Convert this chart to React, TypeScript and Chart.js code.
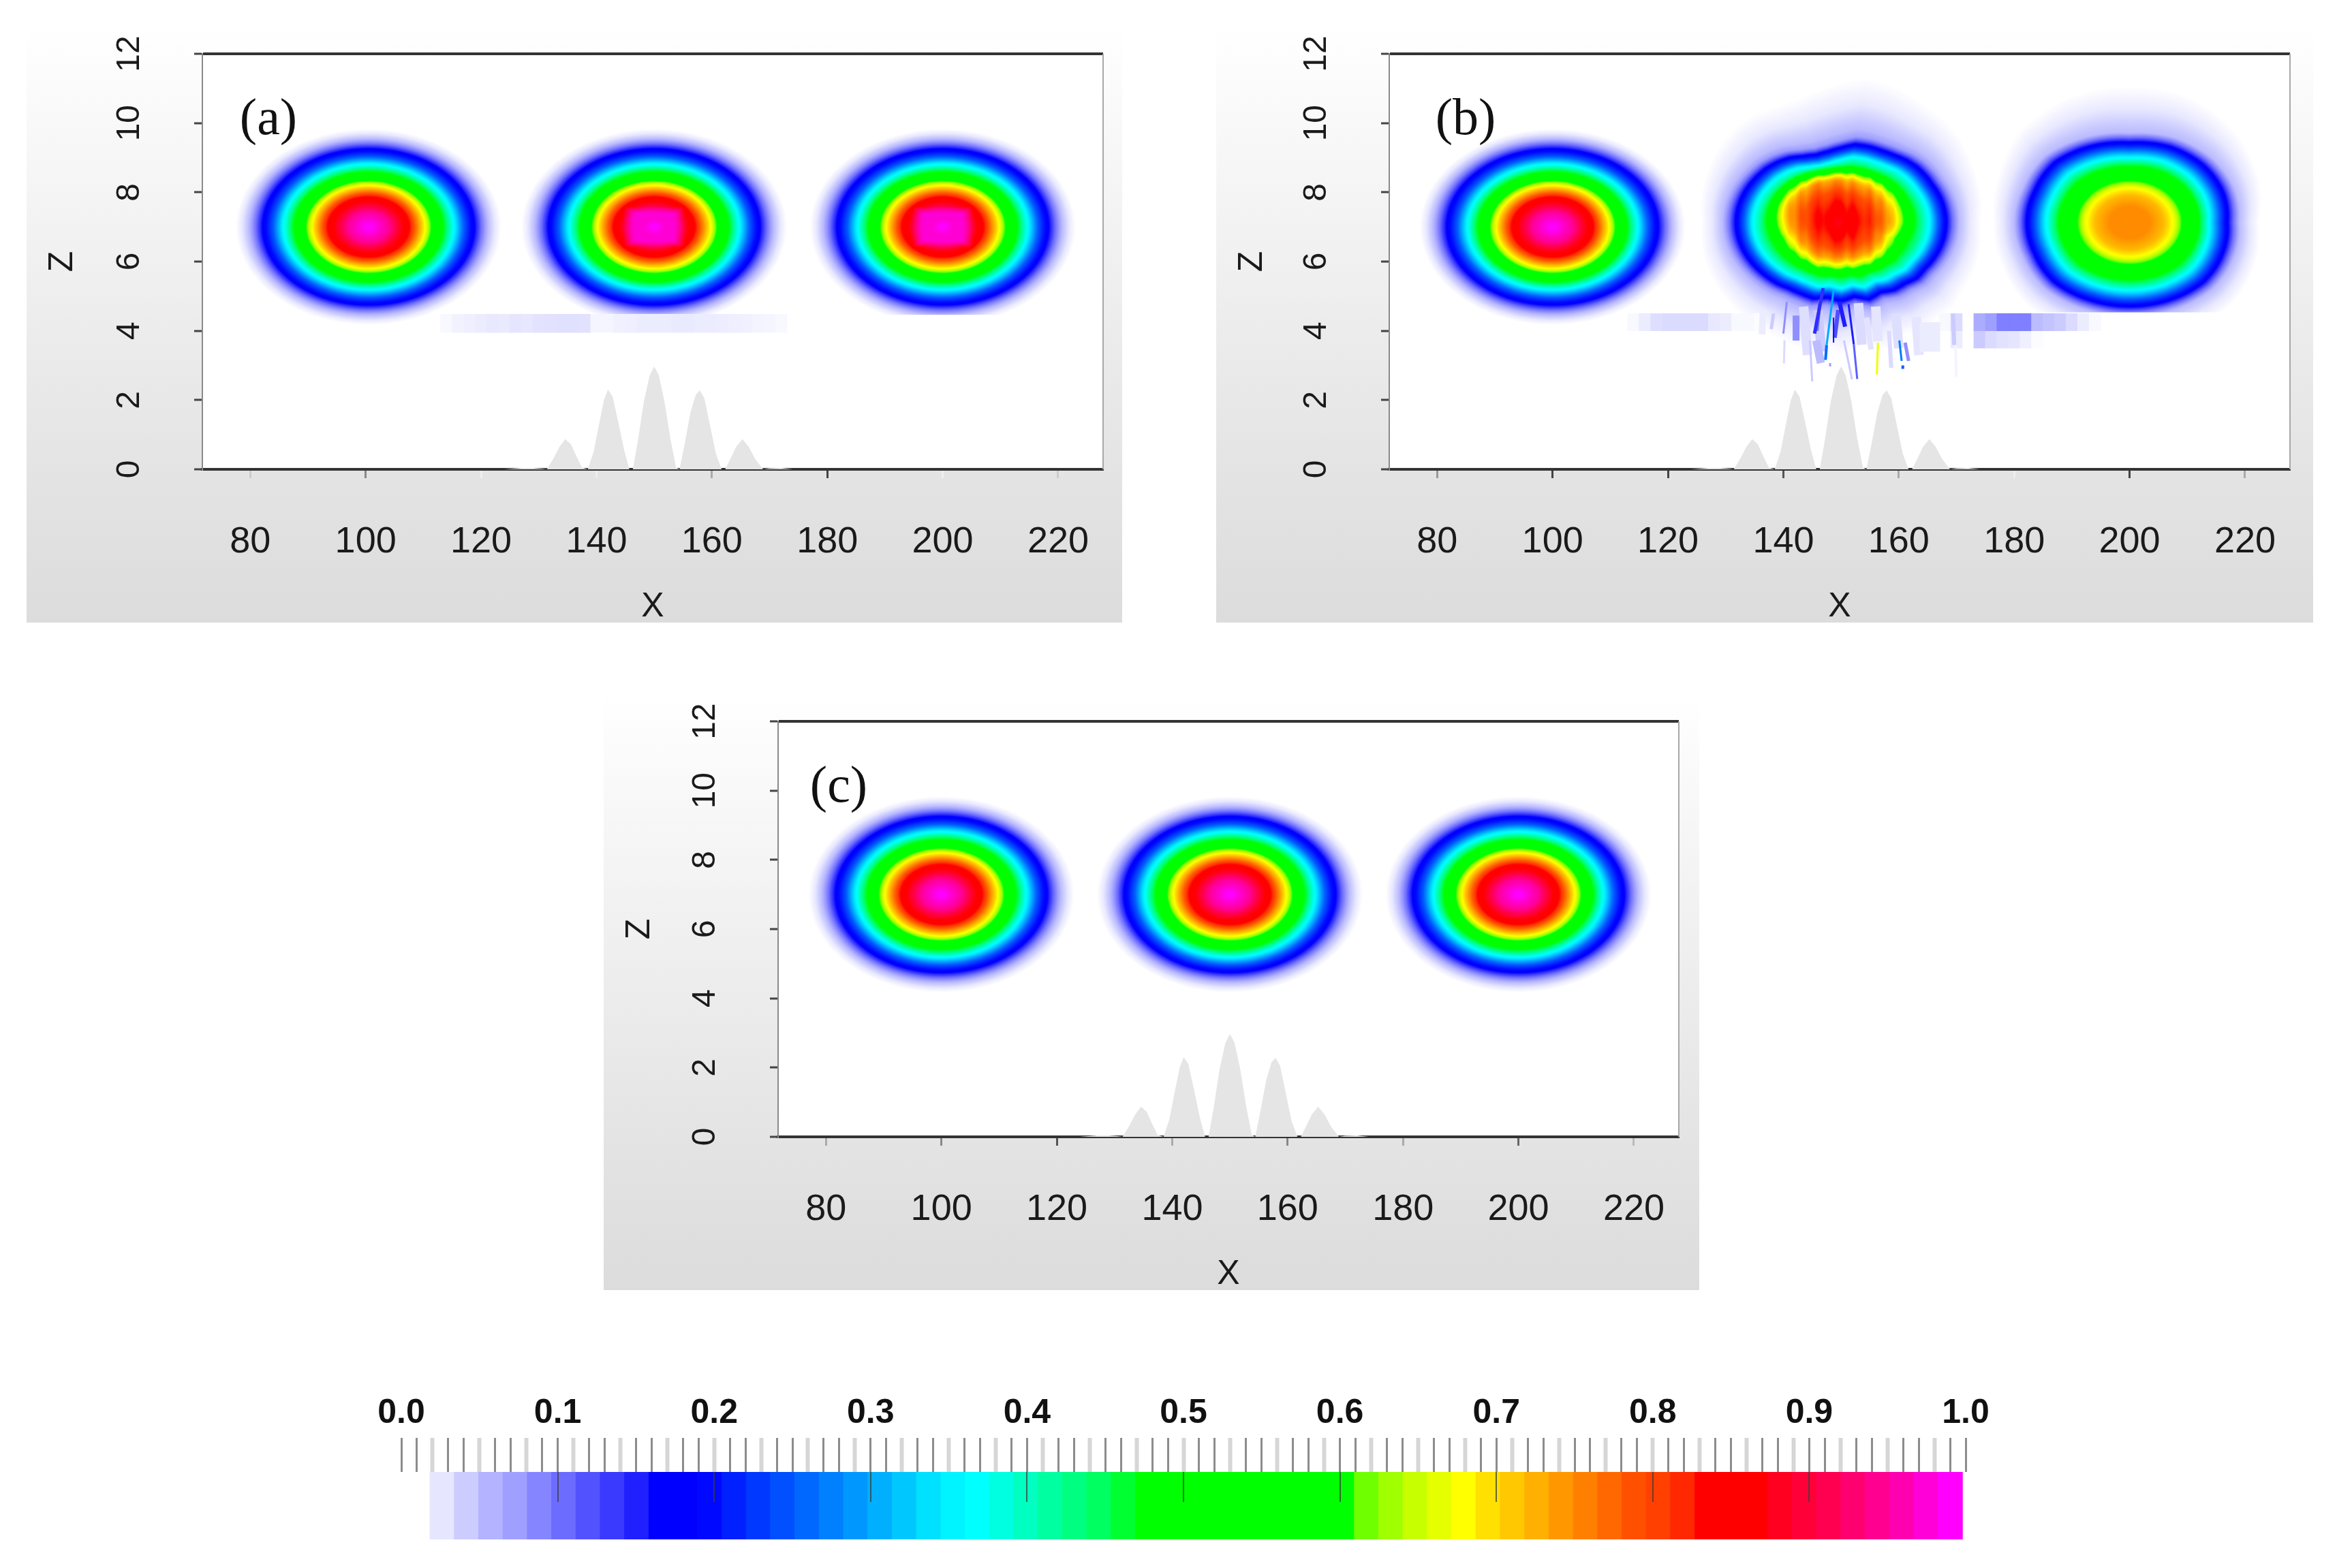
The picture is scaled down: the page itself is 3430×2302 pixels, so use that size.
import React, { useEffect, useRef } from "react";
import { Chart, registerables } from "chart.js";

Chart.register(...registerables);

// ---------- axis values ----------
const xTickStep = 20;
const zTickStep = 2;
const xMin = 71.7;
const xMax = 227.8;
const zMin = 0;
const zMax = 12;

// ---------- grey layer profile (bottom of every panel) ----------
const peakX = [124, 127, 129, 130.5, 131.4, 132.5, 133.6, 134.6, 135.6, 136.6, 137.5, 138.5, 139.5, 140.5, 141.3, 142, 142.8, 143.8, 144.8, 145.7, 146.3, 147.2, 148.2, 149.2, 150, 150.8, 151.8, 152.8, 153.8, 154.4, 155.3, 156.3, 157.2, 157.9, 158.7, 159.7, 160.7, 161.7, 162.3, 163.2, 164.2, 165.3, 166.4, 167.5, 168.9, 170, 172, 174];
const peakZ = [0, 0.04, 0.04, 0.02, 0, 0.3, 0.65, 0.87, 0.72, 0.35, 0.05, 0, 0.5, 1.35, 2.0, 2.3, 2.1, 1.35, 0.55, 0, 0, 0.85, 1.95, 2.7, 2.97, 2.72, 1.95, 0.9, 0.05, 0, 0.75, 1.65, 2.15, 2.28, 2.05, 1.25, 0.45, 0, 0, 0.3, 0.65, 0.87, 0.65, 0.3, 0, 0.03, 0.04, 0];

// ---------- colour scale: 64 levels ----------
const levelColors = [
  "#ffffff", "#e6e6ff", "#ccccff", "#b3b3ff", "#9f9fff", "#8585ff", "#6c6cff", "#5252ff",
  "#3a3aff", "#2020ff", "#0000ff", "#0000ff", "#0008ff", "#0020ff", "#0038ff", "#0050ff",
  "#0068ff", "#0080ff", "#0098ff", "#00b0ff", "#00c8ff", "#00e0ff", "#00f4ff", "#00ffff",
  "#00ffe0", "#00ffc0", "#00ffa0", "#00ff80", "#00ff60", "#00ff30", "#00ff00", "#00ff00",
  "#00ff00", "#00ff00", "#00ff00", "#00ff00", "#00ff00", "#00ff00", "#00ff00", "#70ff00",
  "#a0ff00", "#c8ff00", "#e6ff00", "#ffff00", "#ffe000", "#ffc800", "#ffb000", "#ff9800",
  "#ff8000", "#ff6800", "#ff5000", "#ff4000", "#ff2800", "#ff0000", "#ff0000", "#ff0000",
  "#ff0020", "#ff0038", "#ff0050", "#ff0070", "#ff0090", "#ff00b0", "#ff00d8", "#ff00ff",
];
const barStartLevel = 0.0183;
const barLevelStep = 0.01555;
const barColors = levelColors.slice(1);
const barLevels = barColors.map((_, i) => barStartLevel + (i + 0.5) * barLevelStep);

// ---------- radial profiles: radius (x units) -> level ----------
const profileRadius = [0, 3.5, 7.2, 8.7, 9.9, 10.9, 13, 14.8, 16.5, 18.1, 19.5, 20.7, 22, 23];
const profileLevel = [1, 0.95, 0.83, 0.74, 0.67, 0.6, 0.47, 0.36, 0.25, 0.18, 0.1, 0.05, 0.02, 0];
const profileRadiusB2 = [0, 2.95, 5.9, 8.3, 9.8, 10.9, 12.8, 15.3, 16.8, 18.1, 19.3, 20.5, 22.4, 24.2];
const profileLevelB2 = [0.87, 0.84, 0.8, 0.74, 0.67, 0.6, 0.47, 0.36, 0.25, 0.18, 0.1, 0.05, 0.02, 0];
const profileRadiusB3 = [0, 3.5, 5.9, 7.7, 9.1, 12.4, 14.5, 16.3, 17.7, 18.9, 20, 22, 23.6];
const profileLevelB3 = [0.75, 0.75, 0.72, 0.67, 0.6, 0.47, 0.36, 0.25, 0.18, 0.1, 0.05, 0.02, 0];

// contour deformation by angle (counter-clockwise from +x)
const outerShapeB2 = [1, 1, 1, 1, 1, 1.01, 1.02, 1.02, 1.01, 1.01, 1.02, 1.02, 0.97, 0.93, 0.91, 0.93, 0.97, 0.99, 1, 1, 1, 1, 1, 1, 1, 1, 1, 1, 1, 1, 1, 1, 0.99, 1, 1.02, 0.98, 1.02, 0.97, 1.03, 0.98, 1.01, 1, 1.02, 1, 1, 1, 1, 1];
const coreShapeB2 = [1.0, 1.02, 1.06, 1.12, 1.17, 1.2, 1.16, 1.12, 1.04, 0.98, 1.0, 1.04, 1.0, 1.02, 0.98, 0.92];
const outerShapeB3 = [0.95, 0.98, 1.0, 1.0, 0.97, 1.0, 1.03, 1.0, 1.0, 1.0, 1.03, 1.02, 1.02, 1.02, 1.02, 0.98];
const flatShape = [1];
const coreRippleB2 = [0, 0.01, -0.01, 0.01, -0.015, 0.005, 0.015, -0.01, -0.005, 0.015, 0.01, -0.015, 0.012, -0.005, -0.01, 0.015, -0.012, 0.01, -0.01, 0.01, 0];

// ---------- pale level cells ----------
const bandXA = [114, 116, 118, 120, 122, 124, 126, 128, 130, 132, 134, 136, 138, 140, 142, 144, 146, 148, 150, 152, 154, 156, 158, 160, 162, 164, 166, 168, 170, 172];
const bandLevelA = [0.012, 0.016, 0.018, 0.02, 0.022, 0.021, 0.024, 0.023, 0.025, 0.026, 0.027, 0.027, 0.026, 0.014, 0.014, 0.017, 0.018, 0.02, 0.02, 0.02, 0.021, 0.021, 0.02, 0.02, 0.019, 0.018, 0.017, 0.015, 0.014, 0.012];
const bandXB = [114, 116, 118, 120, 122, 124, 126, 128, 130, 132, 134, 136, 168, 170, 174, 176, 178, 180, 182, 184, 186, 188, 190, 192, 194];
const bandLevelB = [0.012, 0.02, 0.028, 0.03, 0.03, 0.03, 0.03, 0.022, 0.02, 0.012, 0.012, 0.01, 0.012, 0.03, 0.06, 0.07, 0.09, 0.09, 0.09, 0.05, 0.045, 0.04, 0.03, 0.02, 0.012];
const lowBandXB = [170, 174, 176, 178, 180, 182, 184];
const lowBandLevelB = [0.02, 0.04, 0.03, 0.026, 0.024, 0.018, 0.01];

// ---------- filaments below the centre source in panel (b): x1, z1, x2, z2, level, width ----------
const streakX1 = [146.9, 148.7, 147.5, 148.7, 149.7, 151.3, 152.2, 156.4, 160.1, 161.1, 140.6, 142.2, 138.3, 144.6, 140.2, 148.1, 150.5, 145.7, 154.4, 158.3, 169.4, 165.4, 169.8, 149.5, 146.4, 160.7, 143.5, 146, 153, 156, 159.5, 163, 136.5];
const streakZ1 = [5.23, 5.17, 3.59, 4.38, 4.84, 4.77, 3.62, 3.66, 3.72, 3.66, 4.84, 4.44, 4.5, 3.72, 3.72, 3.07, 3.72, 3.72, 4.38, 4.0, 4.5, 4.25, 3.59, 4.6, 4.9, 3.0, 4.7, 4.6, 4.8, 4.7, 4.5, 4.4, 4.6];
const streakX2 = [145.4, 147.5, 147.3, 148.7, 150.7, 152.2, 152.8, 156.2, 160.5, 161.7, 140.0, 142.2, 137.9, 145, 140.1, 148.1, 151.9, 146.5, 155.2, 158.7, 169.6, 165.4, 170, 148.9, 145.8, 160.7, 144.2, 146.6, 153.6, 156.4, 160, 163.5, 136.3];
const streakZ2 = [3.92, 3.59, 3.16, 3.66, 4.12, 3.62, 2.61, 2.74, 3.13, 3.13, 3.92, 3.72, 4.05, 2.54, 3.06, 2.97, 2.6, 3.07, 3.46, 2.93, 3.59, 3.4, 2.66, 3.8, 4.0, 2.9, 3.3, 3.4, 3.6, 3.7, 3.5, 3.3, 3.9];
const streakLevel = [0.14, 0.3, 0.26, 0.16, 0.15, 0.15, 0.11, 0.67, 0.27, 0.08, 0.08, 0.08, 0.04, 0.04, 0.03, 0.07, 0.04, 0.05, 0.025, 0.03, 0.04, 0.02, 0.015, 0.12, 0.1, 0.25, 0.028, 0.04, 0.03, 0.024, 0.028, 0.024, 0.02];
const streakWidth = [5, 3, 4, 2, 6, 3, 3, 3, 3, 5, 3, 10, 5, 3, 3, 3, 3, 12, 8, 6, 6, 30, 4, 6, 5, 4, 14, 14, 14, 14, 14, 14, 10];

// ---------- tick shades ----------
const xTickShadeA = ["#cccccc", "#888888", "#eeeeee", "#eeeeee", "#aaaaaa", "#444444", "#eeeeee", "#cccccc"];
const xTickShadeB = ["#999999", "#444444", "#444444", "#555555", "#aaaaaa", "#eeeeee", "#444444", "#aaaaaa"];
const xTickShadeC = ["#aaaaaa", "#888888", "#555555", "#aaaaaa", "#888888", "#aaaaaa", "#666666", "#bbbbbb"];

const FONT = "'Liberation Sans', Arial, sans-serif";
const plotW = 1322;
const plotH = 610;
const pxPerX = plotW / (xMax - xMin);
const pxPerZ = plotH / (zMax - zMin);

function hexToRgb(h: string) {
  return [parseInt(h.slice(1, 3), 16), parseInt(h.slice(3, 5), 16), parseInt(h.slice(5, 7), 16)];
}
const rgbLevels = levelColors.map(hexToRgb);
function levelRgb(v: number) {
  const p = Math.min(63, Math.max(0, v * 64 - 0.5));
  const i = Math.floor(p);
  const t = p - i;
  const a = rgbLevels[i];
  const b = rgbLevels[Math.min(63, i + 1)];
  return [a[0] + (b[0] - a[0]) * t, a[1] + (b[1] - a[1]) * t, a[2] + (b[2] - a[2]) * t];
}
function levelCss(v: number) {
  const c = levelRgb(v);
  return `rgb(${Math.round(c[0])},${Math.round(c[1])},${Math.round(c[2])})`;
}

function lookup(radii: number[], levels: number[], r: number) {
  if (r <= radii[0]) return levels[0];
  for (let i = 1; i < radii.length; i++) {
    if (r < radii[i]) {
      const t = (r - radii[i - 1]) / (radii[i] - radii[i - 1]);
      return levels[i - 1] + (levels[i] - levels[i - 1]) * t;
    }
  }
  return levels[levels.length - 1];
}
function circular(table: number[], theta: number) {
  const n = table.length;
  if (n === 1) return table[0];
  const p = ((theta / (Math.PI * 2)) % 1 + 1) % 1 * n;
  const i = Math.floor(p);
  const t = p - i;
  return table[i % n] * (1 - t) + table[(i + 1) % n] * t;
}

type Blob = {
  x: number; z: number; aspect: number; radii: number[]; levels: number[];
  clipZ?: number; tailUp?: number; tailDown?: number;
  outer?: number[]; core?: number[]; ripple?: number[]; squareX?: number; squareZ?: number;
};

function renderBlob(b: Blob) {
  const half = 270;
  const cv = document.createElement("canvas");
  cv.width = half * 2;
  cv.height = half * 2;
  const g = cv.getContext("2d")!;
  const img = g.createImageData(half * 2, half * 2);
  const outer = b.outer || flatShape;
  const core = b.core || flatShape;
  for (let py = 0; py < half * 2; py++) {
    const dz = (half - py - 0.5) / pxPerZ;
    if (b.clipZ !== undefined && b.z + dz < b.clipZ) continue;
    for (let px = 0; px < half * 2; px++) {
      const dx = (px + 0.5 - half) / pxPerX;
      const zz = dz * b.aspect;
      const rho0 = Math.hypot(dx, zz);
      const th = Math.atan2(zz, dx);
      const mix = Math.min(1, Math.max(0, (rho0 - 10) / 4));
      const f = circular(core, th) * (1 - mix) + circular(outer, th) * mix;
      let rho = rho0 / f;
      if (rho > 20) {
        const s = Math.sin(th);
        const tail = s > 0 ? (b.tailUp || 0) * s : (b.tailDown || 0) * -s;
        rho = 20 + (rho - 20) * (1 - tail);
      }
      let v = lookup(b.radii, b.levels, rho);
      if (b.ripple && v > 0.55) {
        const q = Math.min(b.ripple.length - 1.001, Math.max(0, dx + 10));
        const qi = Math.floor(q);
        v += b.ripple[qi] + (b.ripple[qi + 1] - b.ripple[qi]) * (q - qi);
      }
      if (b.squareX && b.squareZ) {
        const e = Math.max(Math.abs(dx) / b.squareX, Math.abs(dz) / b.squareZ);
        const soft = Math.min(1, Math.max(0, (1.35 - e) / 0.5));
        v = Math.max(v, v + (0.975 - v) * soft);
      }
      if (v <= 0.001) continue;
      const c = levelRgb(Math.max(v, 0.0234));
      const i = (py * half * 2 + px) * 4;
      img.data[i] = c[0];
      img.data[i + 1] = c[1];
      img.data[i + 2] = c[2];
      img.data[i + 3] = Math.min(1, v / 0.0234) * 255;
    }
  }
  g.putImageData(img, 0, 0);
  return cv;
}

// ---------- panels ----------
const sourceA: Blob[] = [
  { x: 100.5, z: 7, aspect: 8.13, radii: profileRadius, levels: profileLevel, clipZ: 4.0 },
  { x: 150, z: 7, aspect: 8.13, radii: profileRadius, levels: profileLevel, clipZ: 4.47, squareX: 4, squareZ: 0.45 },
  { x: 200, z: 7, aspect: 8.13, radii: profileRadius, levels: profileLevel, clipZ: 4.47, squareX: 4, squareZ: 0.45 },
];
const sourceB: Blob[] = [
  { x: 100, z: 7, aspect: 8.13, radii: profileRadius, levels: profileLevel, clipZ: 4.0 },
  { x: 150, z: 7.13, aspect: 8.16, radii: profileRadiusB2, levels: profileLevelB2, tailUp: 0.7, tailDown: 0.6, outer: outerShapeB2, core: coreShapeB2, ripple: coreRippleB2 },
  { x: 200, z: 7.13, aspect: 7.5, radii: profileRadiusB3, levels: profileLevelB3, clipZ: 4.54, tailUp: 0.65, tailDown: 0.3, outer: outerShapeB3 },
];
const sourceC: Blob[] = [
  { x: 100, z: 7, aspect: 8.13, radii: profileRadius, levels: profileLevel },
  { x: 150, z: 7, aspect: 8.13, radii: profileRadius, levels: profileLevel },
  { x: 200, z: 7, aspect: 8.13, radii: profileRadius, levels: profileLevel },
];

type PanelCfg = {
  tag: string; left: number; top: number; width: number; height: number; plotLeft: number;
  tagX: number; tagY: number; sources: Blob[]; xShade: string[];
  bands: { xs: number[]; levels: number[]; lo: number; hi: number }[];
  streaks: boolean;
};
const panels: PanelCfg[] = [
  { tag: "(a)", left: 39, top: 40, width: 1608, height: 874, plotLeft: 258, tagX: 394, tagY: 177, sources: sourceA, xShade: xTickShadeA, bands: [{ xs: bandXA, levels: bandLevelA, lo: 3.95, hi: 4.48 }], streaks: false },
  { tag: "(b)", left: 1785, top: 40, width: 1610, height: 874, plotLeft: 254, tagX: 2151, tagY: 177, sources: sourceB, xShade: xTickShadeB, bands: [{ xs: bandXB, levels: bandLevelB, lo: 4.0, hi: 4.5 }, { xs: lowBandXB, levels: lowBandLevelB, lo: 3.5, hi: 4.0 }], streaks: true },
  { tag: "(c)", left: 886, top: 1020, width: 1608, height: 874, plotLeft: 256, tagX: 1231, tagY: 1157, sources: sourceC, xShade: xTickShadeC, bands: [], streaks: false },
];

function noScalePadding(s: any) {
  s.paddingLeft = 0;
  s.paddingRight = 0;
  s.paddingTop = 0;
  s.paddingBottom = 0;
}

const panelPlugin = (cfg: PanelCfg) => ({
  id: "panelDecor",
  beforeDraw(chart: any) {
    const { ctx, width, height, chartArea: a } = chart;
    const g = ctx.createLinearGradient(0, 0, 0, height);
    g.addColorStop(0, "#ffffff");
    g.addColorStop(0.1, "#fbfbfb");
    g.addColorStop(0.51, "#ececec");
    g.addColorStop(0.8, "#e2e2e2");
    g.addColorStop(1, "#dcdcdc");
    ctx.save();
    ctx.fillStyle = g;
    ctx.fillRect(0, 0, width, height);
    ctx.fillStyle = "#ffffff";
    ctx.fillRect(a.left, a.top, a.right - a.left, a.bottom - a.top);
    ctx.restore();
  },
  afterDraw(chart: any) {
    const { ctx, chartArea: a } = chart;
    ctx.save();
    ctx.strokeStyle = "#a8a8a8";
    ctx.lineWidth = 2;
    ctx.beginPath();
    ctx.moveTo(a.right, a.top);
    ctx.lineTo(a.right, a.bottom);
    ctx.stroke();
    ctx.fillStyle = "#111111";
    ctx.font = `76px 'Liberation Serif', serif`;
    ctx.textAlign = "center";
    ctx.textBaseline = "middle";
    ctx.fillText(cfg.tag, cfg.tagX - cfg.left, cfg.tagY - cfg.top);
    ctx.restore();
  },
});

function Panel({ cfg }: { cfg: PanelCfg }) {
  const ref = useRef<HTMLCanvasElement>(null);
  useEffect(() => {
    const datasets: any[] = [];
    datasets.push({
      type: "line",
      data: peakX.map((x, i) => ({ x, y: peakZ[i] })),
      borderWidth: 0,
      backgroundColor: "#e5e5e5",
      fill: "origin",
      pointRadius: 0,
      tension: 0,
      order: 10,
    });
    cfg.sources.forEach((s) => {
      datasets.push({
        type: "scatter",
        data: [{ x: s.x, y: s.z }],
        pointStyle: renderBlob(s),
        pointRadius: 1,
        order: 5,
      });
    });
    cfg.bands.forEach((b) => {
      datasets.push({
        type: "bar",
        data: b.xs.map((x) => ({ x, y: [b.lo, b.hi] })),
        backgroundColor: b.levels.map(levelCss),
        borderWidth: 0,
        barPercentage: 1,
        categoryPercentage: 1,
        grouped: false,
        order: 4,
      });
    });
    if (cfg.streaks) {
      streakX1.forEach((x1, i) => {
        datasets.push({
          type: "line",
          data: [{ x: x1, y: streakZ1[i] }, { x: streakX2[i], y: streakZ2[i] }],
          borderColor: levelCss(streakLevel[i]),
          borderWidth: streakWidth[i],
          pointRadius: 0,
          fill: false,
          order: streakLevel[i] > 0.06 ? 1 : 2,
        });
      });
    }
    const chart = new Chart(ref.current!, {
      type: "line",
      data: { datasets },
      plugins: [panelPlugin(cfg)],
      options: {
        responsive: false,
        animation: false,
        events: [],
        devicePixelRatio: 1,
        layout: { padding: { top: 39, right: cfg.width - cfg.plotLeft - plotW, left: 0, bottom: 0 } },
        plugins: { legend: { display: false }, tooltip: { enabled: false }, title: { display: false } },
        scales: {
          x: {
            type: "linear",
            min: xMin,
            max: xMax,
            offset: false,
            afterFit: (s: any) => { s.height = cfg.height - 39 - plotH; noScalePadding(s); },
            grid: {
              offset: false,
              drawOnChartArea: false,
              drawTicks: true,
              tickLength: 13,
              tickWidth: 3,
              tickColor: (c: any) => cfg.xShade[c.index] || "#888888",
            },
            border: { display: true, color: "#333333", width: 4 },
            ticks: {
              stepSize: xTickStep,
              includeBounds: false,
              autoSkip: false,
              maxRotation: 0,
              padding: 62,
              color: "#1a1a1a",
              font: { family: FONT, size: 54 },
            },
            title: { display: true, text: "X", color: "#1a1a1a", font: { family: FONT, size: 50, lineHeight: 0.9 }, padding: 0 },
          },
          y: {
            type: "linear",
            min: zMin,
            max: zMax,
            afterFit: (s: any) => { s.width = cfg.plotLeft; noScalePadding(s); },
            grid: {
              drawOnChartArea: true,
              drawTicks: true,
              tickLength: 12,
              tickWidth: 3,
              tickColor: "#444444",
              color: (c: any) => (c.tick && (c.tick.value === 12 || c.tick.value === 0) ? "#333333" : "rgba(0,0,0,0)"),
              lineWidth: (c: any) => (c.tick && (c.tick.value === 12 || c.tick.value === 0) ? 4 : 0),
            },
            border: { display: true, color: "#8a8a8a", width: 2 },
            ticks: {
              stepSize: zTickStep,
              minRotation: 90,
              maxRotation: 90,
              crossAlign: "center",
              padding: 68,
              color: "#1a1a1a",
              font: { family: FONT, size: 48 },
            },
            title: { display: true, text: "Z", color: "#1a1a1a", font: { family: FONT, size: 50, lineHeight: 1 }, padding: { top: 28, bottom: 0 } },
          },
        },
      } as any,
    });
    return () => chart.destroy();
  }, [cfg]);
  return (
    <canvas
      ref={ref}
      width={cfg.width}
      height={cfg.height}
      style={{ position: "absolute", left: cfg.left, top: cfg.top, width: cfg.width, height: cfg.height, display: "block" }}
    />
  );
}

const barBox = { left: 540, top: 2030, width: 2400, height: 260 };
const colorBarPlugin = {
  id: "barTicks",
  afterDatasetsDraw(chart: any) {
    const { ctx, chartArea: a, scales } = chart;
    ctx.save();
    ctx.strokeStyle = "rgba(60,60,60,0.75)";
    ctx.lineWidth = 2;
    for (let t = 1; t <= 9; t++) {
      const p = Math.round(scales.x.getPixelForValue(t / 10));
      ctx.beginPath();
      ctx.moveTo(p, a.top);
      ctx.lineTo(p, a.top + 44);
      ctx.stroke();
    }
    ctx.restore();
  },
};

function ColorBar() {
  const ref = useRef<HTMLCanvasElement>(null);
  useEffect(() => {
    const chart = new Chart(ref.current!, {
      type: "bar",
      data: {
        datasets: [{
          data: barLevels.map((x) => ({ x, y: 1 })),
          backgroundColor: barColors,
          borderWidth: 0,
          barThickness: 36,
        }],
      },
      plugins: [colorBarPlugin],
      options: {
        responsive: false,
        animation: false,
        events: [],
        devicePixelRatio: 1,
        layout: { padding: { left: 49, right: 55, top: 0, bottom: 30 } },
        plugins: { legend: { display: false }, tooltip: { enabled: false } },
        scales: {
          x: {
            type: "linear",
            position: "top",
            min: 0,
            max: 1,
            offset: false,
            afterFit: (s: any) => { s.height = 131; noScalePadding(s); },
            border: { display: false },
            grid: {
              offset: false,
              drawOnChartArea: false,
              tickLength: 50,
              tickColor: (c: any) => (c.index % 3 === 2 ? "#d6d6d6" : "#8c8c8c"),
              tickWidth: (c: any) => (c.index % 3 === 2 ? 6 : 3),
            },
            ticks: {
              stepSize: 0.01,
              autoSkip: false,
              maxRotation: 0,
              padding: 6,
              color: "#111111",
              font: { family: FONT, size: 50, weight: "bold" },
              callback: (v: any) => {
                const n = Number(v) * 10;
                return Math.abs(n - Math.round(n)) < 1e-6 ? Number(v).toFixed(1) : "";
              },
            },
          },
          y: { type: "linear", min: 0, max: 1, display: false },
        },
      } as any,
    });
    return () => chart.destroy();
  }, []);
  return (
    <canvas
      ref={ref}
      width={barBox.width}
      height={barBox.height}
      style={{ position: "absolute", left: barBox.left, top: barBox.top, width: barBox.width, height: barBox.height, display: "block" }}
    />
  );
}

export default function App() {
  return (
    <div style={{ position: "absolute", left: 0, top: 0, width: 3430, height: 2302, background: "#ffffff", overflow: "hidden" }}>
      {panels.map((p) => (
        <Panel key={p.tag} cfg={p} />
      ))}
      <ColorBar />
    </div>
  );
}
